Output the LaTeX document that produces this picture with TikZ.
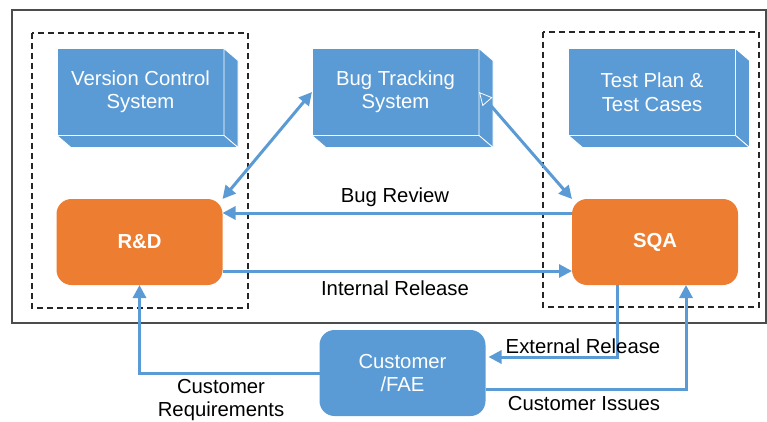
\documentclass[tikz,border=0pt]{standalone}
\usepackage{fontspec}
\setmainfont{Liberation Sans}
\usetikzlibrary{arrows.meta,calc}
\definecolor{cblue}{HTML}{5B9BD5}
\definecolor{corange}{HTML}{ED7D31}
\newcommand\cubesides[1]{%
  \path[cubeside] (#1.north east) -- ($(#1.north east)+(14,12)$) -- ($(#1.south east)+(14,12)$) -- (#1.south east) -- cycle;
  \path[cubeside] (#1.south west) -- (#1.south east) -- ($(#1.south east)+(14,12)$) -- ($(#1.south west)+(14,12)$) -- cycle;}
\begin{document}
\begin{tikzpicture}[x=1pt,y=-1pt,
  every node/.style={font=\fontsize{20.3}{23.5}\selectfont, align=center, inner sep=0pt, outer sep=0pt},
  face/.style={rectangle, fill=cblue, draw=white, line width=0.8pt, minimum width=167pt, minimum height=87pt, text=white},
  cubeside/.style={fill=cblue, draw=white, line width=0.8pt, line join=round},
  proc/.style={rectangle, rounded corners=15pt, fill=corange, minimum width=166pt, minimum height=86pt, text=white, font=\fontsize{20.3}{23.5}\selectfont\bfseries},
  custbox/.style={rectangle, rounded corners=15pt, fill=cblue, minimum width=166pt, minimum height=86pt, text=white},
  conn/.style={draw=cblue, line width=3pt, -{Triangle[length=13pt,width=13pt]}},
  biconn/.style={draw=cblue, line width=3pt, {Triangle[length=13pt,width=13pt]}-{Triangle[length=13pt,width=13pt]}},
  biconnw/.style={draw=cblue, line width=3pt, {Triangle[length=13pt,width=13pt,color=white,fill=cblue,line width=0.8pt]}-{Triangle[length=13pt,width=13pt]}},
  grp/.style={draw=black!85, dash pattern=on 6pt off 4pt, line width=1.1pt},
  frame/.style={draw=black!70, line width=1.2pt},
  lbl/.style={text=black}
]
\useasboundingbox (0,0) rectangle (767,422);
\draw[frame] (12,10) rectangle (766,323);
\draw[grp] (32,33) rectangle (248,308);
\draw[grp] (543,32) rectangle (759,307);

\node[face] (vcs) at (140.5,92) {Version Control\\System};
\cubesides{vcs}
\node[face] (bts) at (395.5,92) {Bug Tracking\\System};
\cubesides{bts}
\node[face] (tpc) at (652,92) {Test Plan \&\\Test Cases};
\cubesides{tpc}

\node[proc] (rd) at (139.5,242) {R\&D};
\node[proc] (sqa) at (655,242) {SQA};
\node[custbox] (cust) at (402.5,373) {Customer\\/FAE};

\draw[biconn] (rd.north east) -- (bts.west);
\draw[biconnw] (bts.east) -- (sqa.north west);
\draw[conn] ($(sqa.west)+(0,-29)$) -- ($(rd.east)+(0,-29)$);
\draw[conn] ($(rd.east)+(0,29)$) -- ($(sqa.west)+(0,29)$);
\draw[conn] ($(sqa.south)+(-38,0)$) |- ($(cust.east)+(3,-16)$);
\draw[conn] ($(cust.east)+(0,16)$) -| ($(sqa.south)+(31,0)$);
\draw[conn] (cust.west) -| (rd.south);

\node[lbl] (lbr) at (395,197) {Bug Review};
\node[lbl] (lir) at (395,288) {Internal Release};
\node[lbl] (ler) at (583,346) {External Release};
\node[lbl] (lci) at (584,404) {Customer Issues};
\node[lbl] (lcr) at (221,400) {Customer\\Requirements};
\end{tikzpicture}
\end{document}
